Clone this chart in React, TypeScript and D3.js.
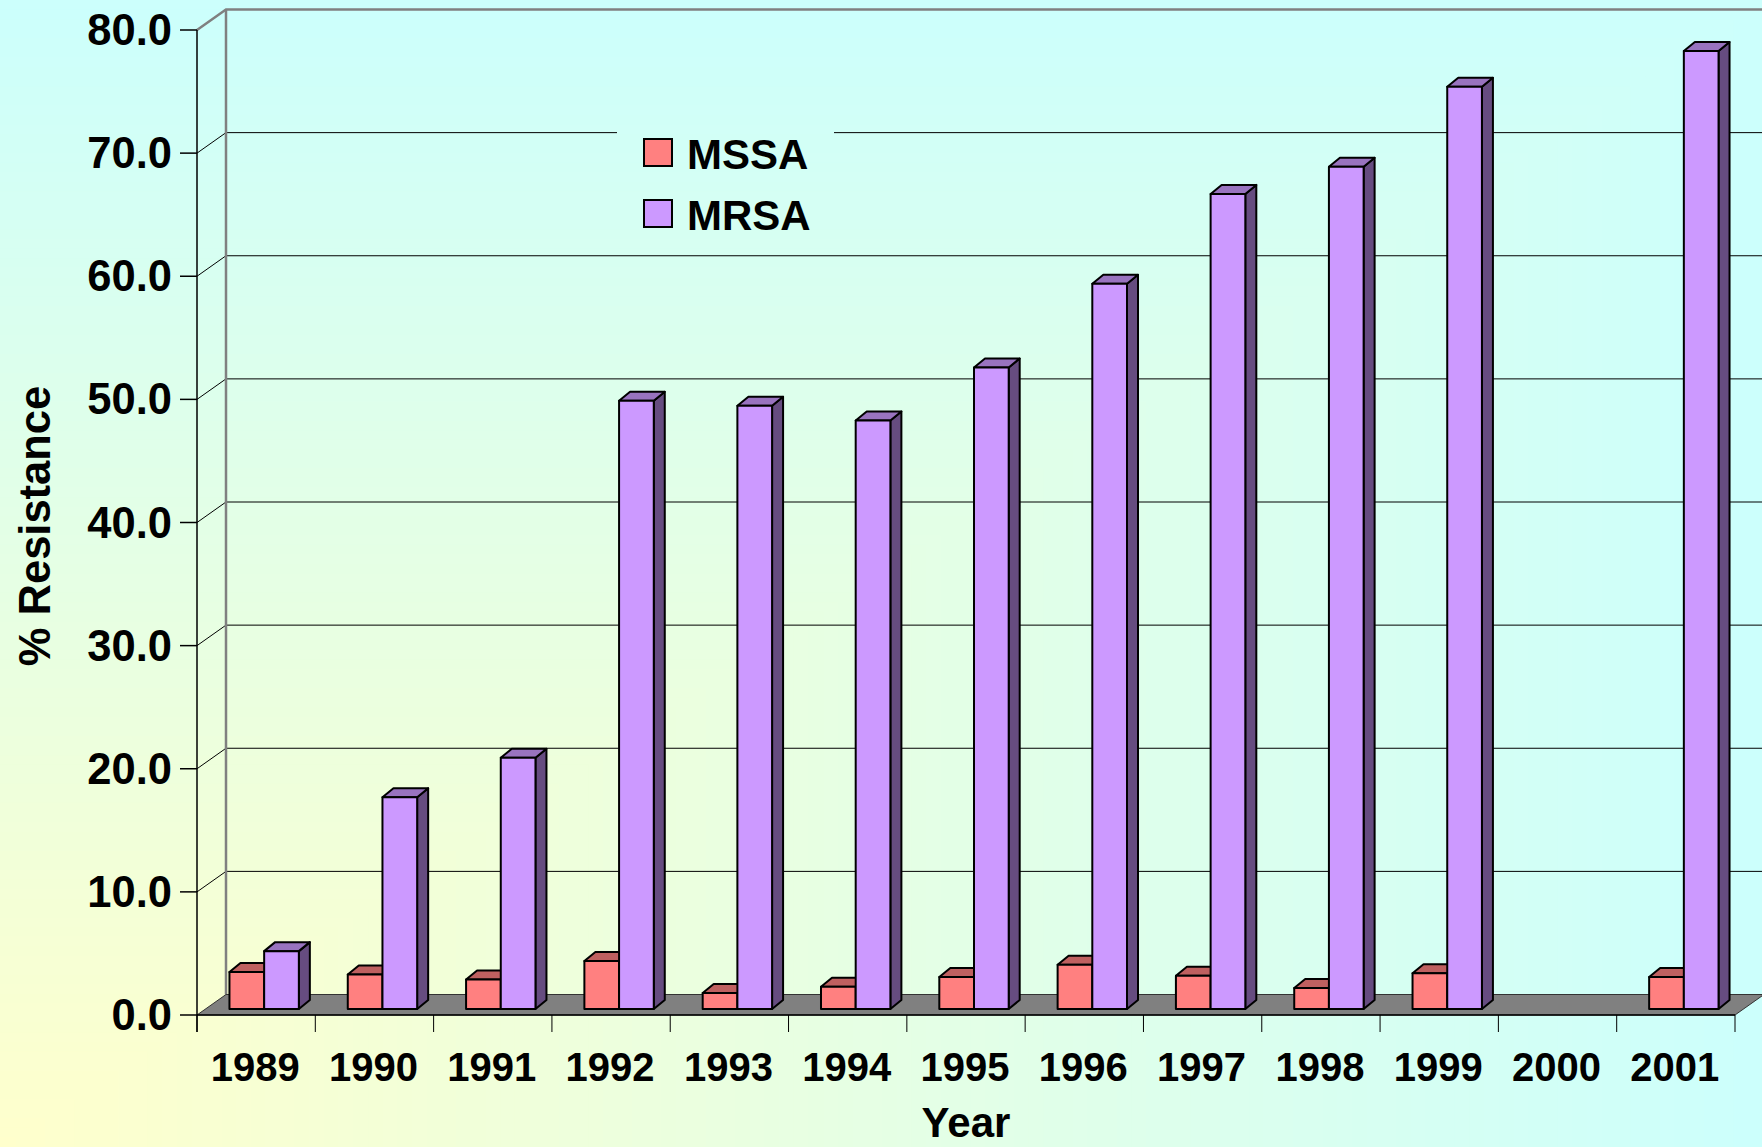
import { useEffect, useRef } from "react"
import * as d3 from "d3"

const years = ["1989", "1990", "1991", "1992", "1993", "1994", "1995", "1996", "1997", "1998", "1999", "2000", "2001"]
const seriesNames = ["MSSA", "MRSA"]
const mssa: (number | null)[] = [3.0, 2.8, 2.4, 3.9, 1.3, 1.8, 2.6, 3.6, 2.7, 1.7, 2.9, null, 2.6]
const mrsa: (number | null)[] = [4.7, 17.2, 20.4, 49.4, 49.0, 47.8, 52.1, 58.9, 66.2, 68.4, 74.9, null, 77.8]
const yTicks = [0, 10, 20, 30, 40, 50, 60, 70, 80]

const WIDTH = 1762
const HEIGHT = 1147

const colors: Record<string, { front: string; top: string; side: string }> = {
  MSSA: { front: "#ff8080", top: "#bf6060", side: "#804040" },
  MRSA: { front: "#cc99ff", top: "#9973bf", side: "#664c80" },
}

export default function App() {
  const svgRef = useRef<SVGSVGElement>(null)

  useEffect(() => {
    if (!svgRef.current) return
    const svg = d3.select(svgRef.current)
    svg.selectAll("*").remove()

    const font = '"Liberation Sans", Arial, sans-serif'
    const left = 197
    const right = 1735
    const top = 30
    const bottom = 1015
    const depth = { dx: 29, dy: -20.5 }
    const barShift = { dx: 8, dy: -6 }
    const barDepth = { dx: 11, dy: -9 }
    const legendBox = { x: 617, y: 118, w: 217, h: 124 }

    // background: "from corner" gradient, yellow in bottom-left fading to cyan
    const bgColor = d3.interpolateRgb("#ffffcc", "#ccfffc")
    const steps = 120
    const bgLayer = svg.append("g")
    for (let k = steps; k >= 1; k--) {
      const f = k / steps
      const w = WIDTH * f
      const h = HEIGHT * f
      bgLayer
        .append("rect")
        .attr("x", 0)
        .attr("y", HEIGHT - h)
        .attr("width", w + 1)
        .attr("height", h + 1)
        .attr("fill", bgColor(f))
    }

    const defs = svg.append("defs")
    const mask = defs.append("mask").attr("id", "legend-cut")
    mask.append("rect").attr("width", WIDTH).attr("height", HEIGHT).attr("fill", "#fff")
    mask
      .append("rect")
      .attr("x", legendBox.x)
      .attr("y", legendBox.y)
      .attr("width", legendBox.w)
      .attr("height", legendBox.h)
      .attr("fill", "#000")

    const x = d3.scaleBand().domain(years).range([left, right])
    const xs = d3.scaleBand().domain(seriesNames).range([0, x.bandwidth()]).paddingOuter(0.705)
    const y = d3.scaleLinear().domain([0, 80]).range([bottom, top])

    // side wall + back wall gridlines
    const grid = svg.append("g").attr("mask", "url(#legend-cut)")
    yTicks
      .filter((t) => t > 0)
      .forEach((t) => {
        const yy = y(t)
        const isTop = t === 80
        grid
          .append("path")
          .attr("d", `M${left},${yy}L${left + depth.dx},${yy + depth.dy}L${WIDTH + 5},${yy + depth.dy}`)
          .attr("fill", "none")
          .attr("stroke", isTop ? "#808080" : "#000")
          .attr("stroke-width", isTop ? 2.5 : 1)
      })

    // back wall left edge
    svg
      .append("line")
      .attr("x1", left + depth.dx)
      .attr("x2", left + depth.dx)
      .attr("y1", y(80) + depth.dy)
      .attr("y2", y(0) + depth.dy)
      .attr("stroke", "#808080")
      .attr("stroke-width", 2.5)

    // floor
    svg
      .append("path")
      .attr(
        "d",
        `M${left},${bottom}L${right},${bottom}L${right + depth.dx},${bottom + depth.dy}L${left + depth.dx},${bottom + depth.dy}Z`,
      )
      .attr("fill", "#808080")
      .attr("stroke", "#333")
      .attr("stroke-width", 1)

    // legend
    const legend = svg.append("g")
    seriesNames.forEach((name, i) => {
      const ly = 139 + i * 61
      legend
        .append("rect")
        .attr("x", 644)
        .attr("y", ly)
        .attr("width", 28)
        .attr("height", 27)
        .attr("fill", colors[name].front)
        .attr("stroke", "#000")
        .attr("stroke-width", 2)
      legend
        .append("text")
        .attr("x", 687)
        .attr("y", ly + 30)
        .attr("font-family", font)
        .attr("font-weight", "bold")
        .attr("font-size", 42)
        .attr("fill", "#000")
        .text(name)
    })

    // bars
    const values: Record<string, (number | null)[]> = { MSSA: mssa, MRSA: mrsa }
    years.forEach((yr, i) => {
      seriesNames.forEach((name) => {
        const v = values[name][i]
        if (v == null) return
        const x0 = (x(yr) as number) + (xs(name) as number) + barShift.dx
        const x1 = x0 + xs.bandwidth()
        const yb = y(0) + barShift.dy
        const yt = y(v) + barShift.dy
        const c = colors[name]
        const g = svg.append("g").attr("stroke", "#000").attr("stroke-width", 2).attr("stroke-linejoin", "round")
        g.append("path")
          .attr("d", `M${x1},${yt}L${x1 + barDepth.dx},${yt + barDepth.dy}L${x1 + barDepth.dx},${yb + barDepth.dy}L${x1},${yb}Z`)
          .attr("fill", c.side)
        g.append("path")
          .attr("d", `M${x0},${yt}L${x0 + barDepth.dx},${yt + barDepth.dy}L${x1 + barDepth.dx},${yt + barDepth.dy}L${x1},${yt}Z`)
          .attr("fill", c.top)
        g.append("rect")
          .attr("x", x0)
          .attr("y", yt)
          .attr("width", x1 - x0)
          .attr("height", yb - yt)
          .attr("fill", c.front)
      })
    })

    // front axis lines and ticks
    const axis = svg.append("g").attr("stroke", "#000").attr("stroke-width", 1.5)
    axis.append("line").attr("x1", left).attr("x2", left).attr("y1", y(80)).attr("y2", bottom + 17)
    axis.append("line").attr("x1", left).attr("x2", right).attr("y1", bottom).attr("y2", bottom)
    yTicks.forEach((t) => {
      axis.append("line").attr("x1", left - 17).attr("x2", left).attr("y1", y(t)).attr("y2", y(t))
    })
    const boundaries = [...years.map((yr) => x(yr) as number), right]
    boundaries.forEach((bx) => {
      axis.append("line").attr("x1", bx).attr("x2", bx).attr("y1", bottom).attr("y2", bottom + 17).attr("stroke-width", 1)
    })

    // tick labels
    svg
      .append("g")
      .selectAll("text")
      .data(yTicks)
      .join("text")
      .attr("x", 172)
      .attr("y", (d) => y(d) + 15)
      .attr("text-anchor", "end")
      .attr("font-family", font)
      .attr("font-weight", "bold")
      .attr("font-size", 43.5)
      .text((d) => d3.format(".1f")(d))

    svg
      .append("g")
      .selectAll("text")
      .data(years)
      .join("text")
      .attr("x", (d) => (x(d) as number) + x.bandwidth() / 2 - 1)
      .attr("y", 1081)
      .attr("text-anchor", "middle")
      .attr("font-family", font)
      .attr("font-weight", "bold")
      .attr("font-size", 40)
      .text((d) => d)

    // axis titles
    svg
      .append("text")
      .attr("x", (left + right) / 2)
      .attr("y", 1137)
      .attr("text-anchor", "middle")
      .attr("font-family", font)
      .attr("font-weight", "bold")
      .attr("font-size", 42)
      .text("Year")

    svg
      .append("text")
      .attr("transform", "translate(50,526) rotate(-90)")
      .attr("text-anchor", "middle")
      .attr("font-family", font)
      .attr("font-weight", "bold")
      .attr("font-size", 43.5)
      .text("% Resistance")
  }, [])

  return (
    <svg
      ref={svgRef}
      width={WIDTH}
      height={HEIGHT}
      style={{ position: "absolute", left: 0, top: 0, display: "block" }}
    />
  )
}
